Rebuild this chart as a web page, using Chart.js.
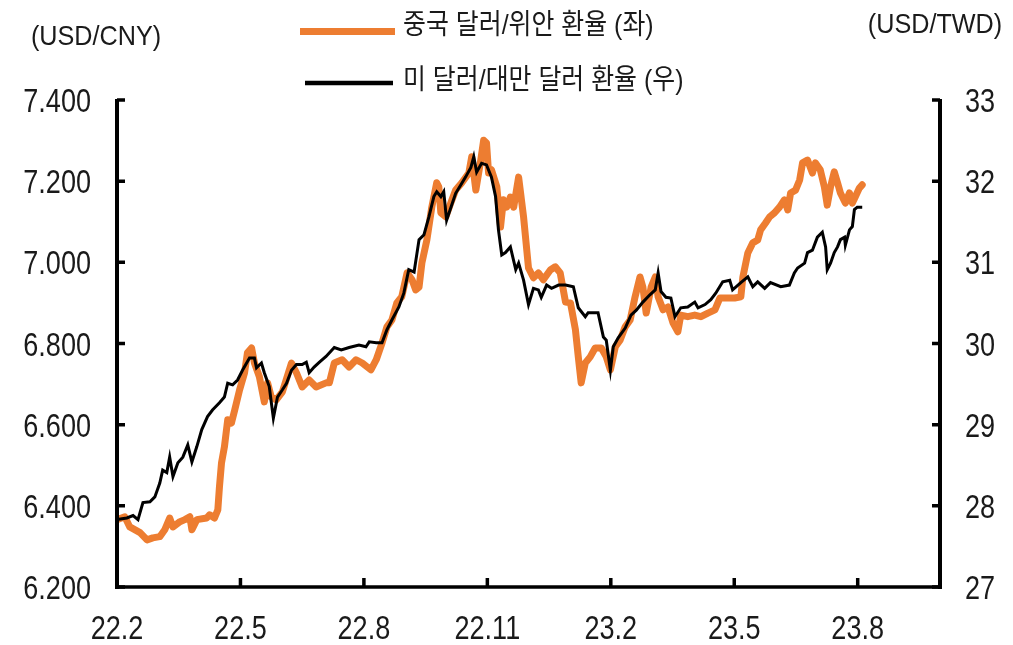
<!DOCTYPE html>
<html>
<head>
<meta charset="utf-8">
<script src="https://cdn.jsdelivr.net/npm/chart.js@4.4.0/dist/chart.umd.min.js"></script>
<style>
  html, body { margin: 0; padding: 0; background: #ffffff; }
  #wrap { width: 1013px; height: 645px; position: relative; }
</style>
</head>
<body>
<div id="wrap"><canvas id="c" width="1013" height="645"></canvas></div>
<script>
// ---- Data (x = months since Feb 2022) ----
const xTickLabels = ['22.2', '22.5', '22.8', '22.11', '23.2', '23.5', '23.8'];
const cnyTickLabels = ['6.200', '6.400', '6.600', '6.800', '7.000', '7.200', '7.400'];
const twdTickLabels = ['27', '28', '29', '30', '31', '32', '33'];
const seriesNames = ['중국 달러/위안 환율 (좌)', '미 달러/대만 달러 환율 (우)'];
const axisTitles = ['(USD/CNY)', '(USD/TWD)'];

const cnyMonths = [0, 0.19, 0.31, 0.56, 0.73, 0.87, 1.04, 1.16, 1.28, 1.36, 1.53, 1.65, 1.77, 1.82, 1.94,
  2.18, 2.25, 2.37, 2.45, 2.49, 2.54, 2.61, 2.69, 2.78, 2.86, 2.98, 3.10, 3.17, 3.27, 3.34, 3.46, 3.58,
  3.66, 3.75, 3.87, 4.02, 4.24, 4.36, 4.50, 4.67, 4.84, 5.08, 5.16, 5.28, 5.47, 5.64, 5.81, 5.96, 6.17,
  6.30, 6.44, 6.56, 6.68, 6.80, 6.92, 7.05, 7.17, 7.26, 7.34, 7.41, 7.53, 7.65, 7.77, 7.82, 7.87, 7.99,
  8.11, 8.23, 8.38, 8.55, 8.62, 8.72, 8.84, 8.91, 8.98, 9.03, 9.10, 9.23, 9.32, 9.39, 9.47, 9.56, 9.64,
  9.76, 9.88, 10.00, 10.12, 10.24, 10.36, 10.53, 10.65, 10.77, 10.90, 11.02, 11.14, 11.21, 11.28, 11.38,
  11.50, 11.62, 11.77, 11.89, 11.99, 12.11, 12.23, 12.35, 12.47, 12.59, 12.71, 12.78, 12.86, 12.98, 13.08,
  13.15, 13.27, 13.39, 13.51, 13.63, 13.70, 13.87, 14.04, 14.19, 14.36, 14.53, 14.65, 14.79, 15.01, 15.16,
  15.21, 15.33, 15.45, 15.57, 15.64, 15.76, 15.86, 15.98, 16.10, 16.22, 16.30, 16.37, 16.49, 16.59, 16.66,
  16.78, 16.90, 16.97, 17.09, 17.19, 17.26, 17.34, 17.43, 17.51, 17.58, 17.70, 17.80, 17.87, 17.94, 18.04, 18.11];
const cnyValues = [6.366, 6.373, 6.348, 6.334, 6.316, 6.321, 6.324, 6.341, 6.370, 6.348, 6.361, 6.366, 6.373, 6.341, 6.366,
  6.370, 6.378, 6.370, 6.390, 6.447, 6.506, 6.545, 6.612, 6.604, 6.636, 6.686, 6.728, 6.777, 6.789, 6.752, 6.718, 6.656,
  6.703, 6.668, 6.661, 6.681, 6.752, 6.728, 6.693, 6.710, 6.693, 6.703, 6.703, 6.752, 6.760, 6.742, 6.760, 6.752, 6.735,
  6.760, 6.801, 6.841, 6.858, 6.900, 6.915, 6.974, 6.957, 6.932, 6.939, 6.999, 7.055, 7.136, 7.196, 7.186, 7.122, 7.112,
  7.146, 7.178, 7.196, 7.220, 7.260, 7.178, 7.252, 7.301, 7.294, 7.220, 7.228, 7.186, 7.087, 7.154, 7.136, 7.161, 7.136,
  7.210, 7.112, 6.986, 6.962, 6.974, 6.957, 6.981, 6.989, 6.974, 6.902, 6.900, 6.834, 6.767, 6.703, 6.752,
  6.767, 6.789, 6.789, 6.767, 6.735, 6.792, 6.809, 6.841, 6.858, 6.915, 6.964, 6.939, 6.875, 6.939, 6.964,
  6.915, 6.883, 6.890, 6.851, 6.829, 6.870, 6.866, 6.870, 6.866, 6.875, 6.883, 6.912, 6.912, 6.912, 6.915,
  6.964, 7.023, 7.048, 7.055, 7.080, 7.097, 7.112, 7.122, 7.136, 7.154, 7.129, 7.171, 7.178, 7.203, 7.245,
  7.252, 7.220, 7.245, 7.228, 7.186, 7.141, 7.186, 7.223, 7.196, 7.171, 7.146, 7.171, 7.146, 7.161, 7.183, 7.191];

const twdMonths = [0, 0.24, 0.39, 0.51, 0.63, 0.80, 0.92, 1.04, 1.11, 1.21, 1.28, 1.36, 1.48, 1.60, 1.72, 1.82, 1.94,
  2.06, 2.20, 2.32, 2.49, 2.61, 2.69, 2.81, 2.93, 3.05, 3.15, 3.22, 3.34, 3.39, 3.51, 3.58, 3.70, 3.80, 3.90,
  4.02, 4.12, 4.24, 4.36, 4.50, 4.60, 4.67, 4.79, 4.92, 5.08, 5.28, 5.45, 5.64, 5.88, 6.05, 6.13, 6.30, 6.44,
  6.56, 6.68, 6.85, 6.97, 7.09, 7.22, 7.34, 7.46, 7.58, 7.70, 7.77, 7.87, 7.94, 8.01, 8.11, 8.23, 8.35, 8.47,
  8.60, 8.67, 8.74, 8.86, 8.98, 9.10, 9.20, 9.27, 9.35, 9.44, 9.56, 9.69, 9.76, 9.88, 10.00, 10.12, 10.24,
  10.31, 10.44, 10.56, 10.73, 10.90, 11.09, 11.21, 11.38, 11.45, 11.69, 11.82, 11.89, 11.99, 12.06, 12.18,
  12.35, 12.49, 12.62, 12.78, 12.95, 13.08, 13.15, 13.22, 13.34, 13.46, 13.56, 13.70, 13.87, 14.04, 14.12,
  14.29, 14.43, 14.55, 14.72, 14.89, 14.96, 15.16, 15.33, 15.45, 15.57, 15.74, 15.88, 16.13, 16.34, 16.46,
  16.54, 16.71, 16.78, 16.90, 17.02, 17.14, 17.22, 17.26, 17.34, 17.43, 17.51, 17.58, 17.68, 17.70, 17.80,
  17.87, 17.92, 17.99, 18.11];
const twdValues = [27.83, 27.85, 27.88, 27.83, 28.04, 28.05, 28.11, 28.28, 28.44, 28.41, 28.60, 28.36, 28.53, 28.60, 28.75, 28.54, 28.73,
  28.94, 29.10, 29.18, 29.27, 29.34, 29.51, 29.49, 29.55, 29.67, 29.76, 29.82, 29.82, 29.70, 29.76, 29.64, 29.47, 29.08, 29.34,
  29.43, 29.51, 29.67, 29.74, 29.74, 29.77, 29.64, 29.71, 29.77, 29.84, 29.95, 29.92, 29.95, 29.98, 29.96, 30.02, 30.01, 30.01,
  30.17, 30.29, 30.45, 30.62, 30.91, 30.88, 31.28, 31.34, 31.56, 31.81, 31.87, 31.81, 31.87, 31.52, 31.67, 31.85, 31.95, 32.05,
  32.17, 32.30, 32.11, 32.22, 32.20, 32.05, 31.81, 31.40, 31.09, 31.12, 31.19, 30.91, 30.99, 30.78, 30.48, 30.68, 30.66,
  30.57, 30.72, 30.68, 30.72, 30.72, 30.70, 30.44, 30.33, 30.38, 30.38, 30.08, 30.04, 29.67, 29.96, 30.07,
  30.19, 30.35, 30.41, 30.51, 30.60, 30.66, 30.87, 30.64, 30.57, 30.56, 30.33, 30.44, 30.45, 30.51, 30.44,
  30.48, 30.54, 30.62, 30.76, 30.78, 30.66, 30.75, 30.82, 30.70, 30.76, 30.68, 30.75, 30.70, 30.72, 30.87,
  30.93, 30.99, 31.12, 31.15, 31.31, 31.37, 31.19, 30.91, 30.99, 31.12, 31.19, 31.28, 31.31, 31.21, 31.40,
  31.44, 31.65, 31.68, 31.68];

// ---- Build datasets ----
const cnyData = cnyMonths.map((m, i) => ({ x: m, y: cnyValues[i] }));
const twdData = twdMonths.map((m, i) => ({ x: m, y: twdValues[i] }));

const FONT = '"Liberation Sans", "Noto Sans CJK KR", sans-serif';
const ORANGE = '#ED7D31';
const TEXT = '#1a1a1a';

function condensedText(ctx, text, x, y, opts) {
  ctx.save();
  ctx.translate(x, y);
  ctx.scale(opts.sx, 1);
  ctx.font = opts.size + 'px ' + FONT;
  ctx.fillStyle = TEXT;
  ctx.textAlign = opts.align || 'left';
  ctx.textBaseline = opts.baseline || 'alphabetic';
  ctx.fillText(text, 0, 0);
  ctx.restore();
}

const decorPlugin = {
  id: 'decor',
  afterDraw(chart) {
    const ctx = chart.ctx;
    const a = chart.chartArea;
    const xs = chart.scales.x, yl = chart.scales.y, yr = chart.scales.y2;
    ctx.save();
    ctx.strokeStyle = '#000';
    ctx.lineCap = 'butt';
    // axis lines
    ctx.lineWidth = 4;
    ctx.beginPath();
    ctx.moveTo(a.left, a.top - 1); ctx.lineTo(a.left, a.bottom + 2);
    ctx.moveTo(a.right, a.top - 1); ctx.lineTo(a.right, a.bottom + 2);
    ctx.stroke();
    ctx.lineWidth = 3.5;
    ctx.beginPath();
    ctx.moveTo(a.left - 2, a.bottom); ctx.lineTo(a.right + 2, a.bottom);
    ctx.stroke();
    // inward tick marks
    ctx.lineWidth = 3.5;
    ctx.beginPath();
    cnyTickLabels.forEach(t => {
      const y = yl.getPixelForValue(parseFloat(t));
      ctx.moveTo(a.left, y); ctx.lineTo(a.left + 8, y);
    });
    twdTickLabels.forEach(t => {
      const y = yr.getPixelForValue(parseFloat(t));
      ctx.moveTo(a.right, y); ctx.lineTo(a.right - 8, y);
    });
    xTickLabels.forEach((t, i) => {
      if (i === 0) return;
      const x = xs.getPixelForValue(i * 3);
      ctx.moveTo(x, a.bottom); ctx.lineTo(x, a.bottom - 9);
    });
    ctx.stroke();

    // tick labels
    cnyTickLabels.forEach(t => {
      const y = yl.getPixelForValue(parseFloat(t));
      condensedText(ctx, t, a.left - 26, y + 12, { size: 33, sx: 0.82, align: 'right' });
    });
    twdTickLabels.forEach(t => {
      const y = yr.getPixelForValue(parseFloat(t));
      condensedText(ctx, t, a.right + 25, y + 12, { size: 33, sx: 0.82, align: 'left' });
    });
    xTickLabels.forEach((t, i) => {
      const x = xs.getPixelForValue(i * 3);
      condensedText(ctx, t, x, 639, { size: 33, sx: 0.82, align: 'center' });
    });

    // axis titles
    condensedText(ctx, axisTitles[0], 96, 45, { size: 28, sx: 0.9, align: 'center' });
    condensedText(ctx, axisTitles[1], 935, 33, { size: 28, sx: 0.9, align: 'center' });

    // legend
    const items = [
      { ly: 31.5, ty: 26, x1: 300, x2: 395, color: ORANGE, w: 7, text: seriesNames[0] },
      { ly: 83, ty: 81, x1: 305, x2: 393, color: '#000', w: 4.5, text: seriesNames[1] }
    ];
    items.forEach(it => {
      ctx.strokeStyle = it.color;
      ctx.lineWidth = it.w;
      ctx.lineCap = 'butt';
      ctx.beginPath();
      ctx.moveTo(it.x1, it.ly); ctx.lineTo(it.x2, it.ly);
      ctx.stroke();
      condensedText(ctx, it.text, 403, it.ty, { size: 28, sx: 0.89, align: 'left', baseline: 'middle' });
    });
    ctx.restore();
  }
};

new Chart(document.getElementById('c'), {
  type: 'line',
  data: {
    datasets: [
      {
        label: seriesNames[0],
        data: cnyData,
        yAxisID: 'y',
        borderColor: ORANGE,
        backgroundColor: ORANGE,
        borderWidth: 7,
        pointRadius: 0,
        tension: 0,
        borderJoinStyle: 'round',
        borderCapStyle: 'round',
        order: 1
      },
      {
        label: seriesNames[1],
        data: twdData,
        yAxisID: 'y2',
        borderColor: '#000000',
        backgroundColor: '#000000',
        borderWidth: 3,
        pointRadius: 0,
        tension: 0,
        borderJoinStyle: 'miter',
        order: 0
      }
    ]
  },
  options: {
    responsive: false,
    devicePixelRatio: 1,
    animation: false,
    layout: { padding: { top: 100, left: 0, right: 0, bottom: 0 } },
    plugins: { legend: { display: false }, tooltip: { enabled: false } },
    scales: {
      x: {
        type: 'linear',
        min: 0,
        max: 20,
        grid: { display: false, drawTicks: false },
        border: { display: false },
        afterBuildTicks(scale) { scale.ticks = xTickLabels.map((l, i) => ({ value: i * 3 })); },
        afterFit(scale) { scale.height = 58; },
        ticks: { display: false }
      },
      y: {
        position: 'left',
        min: 6.2,
        max: 7.4,
        grid: { display: false, drawTicks: false },
        border: { display: false },
        afterBuildTicks(scale) { scale.ticks = cnyTickLabels.map(l => ({ value: parseFloat(l) })); },
        afterFit(scale) { scale.width = 117; },
        ticks: { display: false }
      },
      y2: {
        position: 'right',
        min: 27,
        max: 33,
        grid: { display: false, drawTicks: false },
        border: { display: false },
        afterBuildTicks(scale) { scale.ticks = twdTickLabels.map(l => ({ value: parseFloat(l) })); },
        afterFit(scale) { scale.width = 73; },
        ticks: { display: false }
      }
    }
  },
  plugins: [decorPlugin]
});
</script>
</body>
</html>
